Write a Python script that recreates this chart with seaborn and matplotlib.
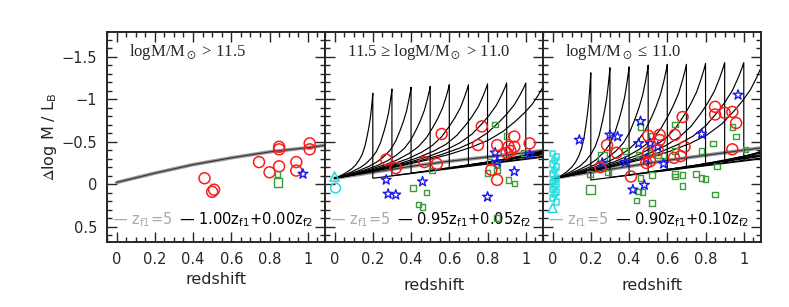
import numpy as np
import pandas as pd
import matplotlib
matplotlib.use("Agg")
import matplotlib.pyplot as plt
from matplotlib.ticker import MultipleLocator
import seaborn as sns

sns.set_style("ticks")
plt.rcParams["font.family"] = ["DejaVu Sans"]
plt.rcParams["mathtext.fontset"] = "stix"

# ---------------- data ----------------
titles = [r"logM/M$_\odot$ > 11.5",
          r"11.5 ≥ logM/M$_\odot$ > 11.0",
          r"logM/M$_\odot$ ≤ 11.0"]
mix_labels = [r"1.00z$_\mathregular{f1}$+0.00z$_\mathregular{f2}$",
              r"0.95z$_\mathregular{f1}$+0.05z$_\mathregular{f2}$",
              r"0.90z$_\mathregular{f1}$+0.10z$_\mathregular{f2}$"]

# passive track (z_f1 only)
base_z = [0.0, 0.2, 0.4, 0.6, 0.8, 1.0, 1.1]
base_v1 = [-0.02, -0.13, -0.23, -0.31, -0.38, -0.43, -0.46]
base_v2 = [-0.07, -0.14, -0.21, -0.27, -0.32, -0.37, -0.40]
base_v3 = [-0.07, -0.14, -0.21, -0.28, -0.34, -0.40, -0.43]

# burst tracks (second formation redshift z_f2)
zf2 = [0.2, 0.3, 0.4, 0.5, 0.6, 0.7, 0.8, 0.9, 1.0, 1.1]
top2 = [-1.07, -1.12, -1.14, -1.15, -1.17, -1.17, -1.18, -1.19, -1.19, -1.19]
top3 = [-1.31, -1.37, -1.38, -1.40, -1.41, -1.41, -1.42, -1.43, -1.43, -1.43]
bot2 = [-0.07, -0.10, -0.13, -0.16, -0.19, -0.22, -0.25, -0.28, -0.31, -0.34]
bot3 = [-0.05, -0.08, -0.11, -0.14, -0.17, -0.20, -0.23, -0.26, -0.29, -0.32]
end2 = [-0.32, -0.33, -0.35, -0.36, -0.37, -0.38, -0.39, -0.40, -0.40, -0.34]
end3 = [-0.30, -0.31, -0.33, -0.34, -0.35, -0.37, -0.38, -0.39, -0.40, -0.32]
pivot2 = (0.0, -0.07)
pivot3 = (0.02, -0.07)
slope2 = -0.30
slope3 = -0.31
# rise of a burst track above the passive line (fraction of the way to z_f2)
prof_t = [0, 0.15, 0.3, 0.45, 0.55, 0.65, 0.73, 0.8, 0.86, 0.9, 0.94, 0.97, 0.99, 1.0]
prof_h = [0, 0.02, 0.05, 0.09, 0.13, 0.19, 0.26, 0.36, 0.49, 0.59, 0.71, 0.84, 0.94, 1.0]

# panel 1 points
p1_red_z = [0.46, 0.50, 0.51, 0.745, 0.80, 0.85, 0.85, 0.85, 0.94, 0.94, 1.01, 1.01]
p1_red_v = [-0.07, 0.09, 0.065, -0.26, -0.14, -0.44, -0.41, -0.21, -0.26, -0.16, -0.48, -0.41]
p1_grn_z = [0.84]
p1_grn_v = [-0.12]
p1_bgrn_z = [0.845]
p1_bgrn_v = [-0.02]
p1_blu_z = [0.975]
p1_blu_v = [-0.12]

# panel 2 points
p2_red_z = [0.27, 0.32, 0.56, 0.47, 0.535, 0.77, 0.75, 0.85, 0.85, 0.82, 0.94, 0.91, 0.94,
            0.92, 0.90, 1.02]
p2_red_v = [-0.29, -0.19, -0.59, -0.26, -0.24, -0.68, -0.46, -0.46, -0.05, -0.17, -0.56,
            -0.44, -0.44, -0.39, -0.37, -0.48]
p2_blu_z = [0.27, 0.28, 0.32, 0.46, 0.80, 0.84, 0.85, 0.94, 1.02]
p2_blu_v = [-0.05, 0.115, 0.125, -0.03, 0.15, -0.37, -0.26, -0.15, -0.35]
p2_grn_z = [0.41, 0.48, 0.44, 0.46, 0.51, 0.84, 0.90, 0.80, 0.85, 0.85, 0.91, 0.94, 0.85,
            0.99, 0.81]
p2_grn_v = [0.045, 0.10, 0.24, 0.27, -0.16, -0.70, -0.57, -0.13, -0.23, -0.16, -0.05,
            -0.01, 0.40, -0.37, -0.26]
p2_cyc_z = [0.005]
p2_cyc_v = [0.045]
p2_cyt_z = [0.0]
p2_cyt_v = [-0.09]

# panel 3 points
p3_red_z = [0.285, 0.335, 0.25, 0.41, 0.50, 0.56, 0.56, 0.50, 0.49, 0.51, 0.64, 0.69,
            0.635, 0.67, 0.68, 0.85, 0.85, 0.90, 0.94, 0.96, 0.94, 0.55]
p3_red_v = [-0.46, -0.37, -0.20, -0.09, -0.57, -0.58, -0.52, -0.37, -0.25, -0.27, -0.58,
            -0.44, -0.31, -0.33, -0.79, -0.91, -0.82, -0.84, -0.85, -0.72, -0.41, -0.40]
p3_blu_z = [0.14, 0.30, 0.34, 0.26, 0.38, 0.45, 0.46, 0.51, 0.55, 0.49, 0.58, 0.48, 0.42,
            0.78, 0.97]
p3_blu_v = [-0.52, -0.58, -0.56, -0.25, -0.26, -0.48, -0.74, -0.48, -0.44, -0.30, -0.24,
            0.01, 0.065, -0.59, -1.05]
p3_grn_z = [0.196, 0.29, 0.38, 0.46, 0.45, 0.46, 0.45, 0.47, 0.44, 0.52, 0.52, 0.52, 0.55,
            0.52, 0.64, 0.64, 0.64, 0.64, 0.68, 0.68, 0.75, 0.78, 0.78, 0.80, 0.84, 0.85,
            0.86, 0.94, 0.96, 1.01, 0.58]
p3_grn_v = [-0.12, -0.14, -0.39, -0.67, -0.35, -0.07, 0.085, 0.09, 0.19, 0.22, -0.57,
            -0.37, -0.34, -0.11, -0.70, -0.39, -0.12, -0.09, -0.11, 0.02, -0.12, -0.39,
            -0.07, -0.06, -0.48, 0.12, -0.21, -0.67, -0.56, -0.41, -0.34]
p3_bgrn_z = [0.20, 0.26]
p3_bgrn_v = [0.065, -0.32]
p3_cys_z = [0.0, 0.02, 0.01, 0.0, 0.02, 0.01, 0.0, 0.02, 0.01, 0.0, 0.02, 0.01, 0.0, 0.02,
            0.01, 0.0, 0.02]
p3_cys_v = [-0.36, -0.32, -0.28, -0.24, -0.20, -0.16, -0.12, -0.08, -0.05, -0.02, 0.0,
            0.03, 0.06, 0.09, 0.12, 0.16, 0.21]
p3_cyt_z = [0.0]
p3_cyt_v = [0.28]

RED = "#ff1a1a"
BLUE = "#1a1aee"
GREEN = "#3c9c3c"
CYAN = "#22dde0"


def burst_tracks(pivot, slope, tops, bots, ends):
    rows = []
    for i, (zf, top, bot, end) in enumerate(zip(zf2, tops, bots, ends)):
        z0, v0 = pivot
        vbase_f = v0 + slope * (zf - z0)
        for t, h in zip(prof_t, prof_h):
            z = z0 + t * (zf - z0)
            vb = v0 + slope * (z - z0)
            rows.append((i, z, vb + (top - vbase_f) * h))
        rows.append((i, zf, bot))
        rows.append((i, 1.1, end))
    return pd.DataFrame(rows, columns=["track", "z", "v"])


def open_pts(ax, z, v, marker, color, s, lw=1.0):
    sns.scatterplot(x=z, y=v, ax=ax, marker=marker, s=s, color=color,
                    facecolor="none", edgecolor=color, linewidth=lw, zorder=4)


fig = plt.figure(figsize=(7.89, 3.07), dpi=100)
W = 218 / 789
axes = [fig.add_axes([(107 + k * 218) / 789, 65 / 307, W, 210 / 307]) for k in range(3)]

bases = [base_v1, base_v2, base_v3]
for k, ax in enumerate(axes):
    # passive line(s)
    sns.lineplot(x=base_z, y=bases[k], ax=ax, color="#9a9a9a", lw=2.6, sort=False, zorder=1)
    sns.lineplot(x=base_z, y=bases[k], ax=ax, color="#333333", lw=0.8, sort=False, zorder=2)

tr2 = burst_tracks(pivot2, slope2, top2, bot2, end2)
tr3 = burst_tracks(pivot3, slope3, top3, bot3, end3)
sns.lineplot(data=tr2, x="z", y="v", units="track", estimator=None, sort=False,
             color="black", lw=0.85, ax=axes[1], zorder=2)
sns.lineplot(data=tr3, x="z", y="v", units="track", estimator=None, sort=False,
             color="black", lw=0.85, ax=axes[2], zorder=2)

# panel 1 markers
open_pts(axes[0], p1_red_z, p1_red_v, "o", RED, 62, 1.1)
open_pts(axes[0], p1_grn_z, p1_grn_v, "s", GREEN, 14)
open_pts(axes[0], p1_bgrn_z, p1_bgrn_v, "s", GREEN, 36)
open_pts(axes[0], p1_blu_z, p1_blu_v, "*", BLUE, 55)

# panel 2 markers
open_pts(axes[1], p2_grn_z, p2_grn_v, "s", GREEN, 16)
open_pts(axes[1], p2_blu_z, p2_blu_v, "*", BLUE, 55)
open_pts(axes[1], p2_red_z, p2_red_v, "o", RED, 62, 1.1)
open_pts(axes[1], p2_cyc_z, p2_cyc_v, "o", CYAN, 50, 1.1)
open_pts(axes[1], p2_cyt_z, p2_cyt_v, "^", CYAN, 45, 1.1)

# panel 3 markers
open_pts(axes[2], p3_grn_z, p3_grn_v, "s", GREEN, 16)
open_pts(axes[2], p3_bgrn_z, p3_bgrn_v, "s", GREEN, 45)
open_pts(axes[2], p3_blu_z, p3_blu_v, "*", BLUE, 55)
open_pts(axes[2], p3_red_z, p3_red_v, "o", RED, 62, 1.1)
open_pts(axes[2], p3_cys_z, p3_cys_v, "s", CYAN, 16, 1.1)
open_pts(axes[2], p3_cyt_z, p3_cyt_v, "^", CYAN, 40, 1.1)

for k, ax in enumerate(axes):
    ax.set_xlim(-0.05, 1.09)
    ax.set_ylim(0.68, -1.79)
    ax.xaxis.set_major_locator(MultipleLocator(0.2))
    ax.xaxis.set_minor_locator(MultipleLocator(0.05))
    ax.yaxis.set_major_locator(MultipleLocator(0.5))
    ax.yaxis.set_minor_locator(MultipleLocator(0.1))
    ax.set_xticks([0, 0.2, 0.4, 0.6, 0.8, 1.0], ["0", "0.2", "0.4", "0.6", "0.8", "1"])
    ax.tick_params(which="both", direction="in", top=True, right=True, width=1.0,
                   labelsize=10.5, pad=7)
    ax.tick_params(which="major", length=7)
    ax.tick_params(which="minor", length=3.5)
    for sp in ax.spines.values():
        sp.set_linewidth(1.4)
    ax.set_xlabel("redshift", fontsize=11.5, labelpad=4 if k == 0 else 8)
    if k == 0:
        ax.set_yticks([-1.5, -1, -0.5, 0, 0.5], ["\u22121.5", "\u22121", "\u22120.5", "0", "0.5"])
        ax.set_ylabel(r"$\Delta$log M / L$_\mathregular{B}$", fontsize=11.5, labelpad=2)
    else:
        ax.set_yticks([-1.5, -1, -0.5, 0, 0.5], [])
        ax.set_ylabel("")
    ax.text(0.10, 0.905, titles[k], transform=ax.transAxes,
            fontsize=12, family="Liberation Serif", ha="left", va="center")
    ax.text(0.025, 0.105, r"— z$_\mathregular{f1}$=5", transform=ax.transAxes,
            fontsize=10.5, color="#aaaaaa", ha="left", va="center")
    ax.text(0.33, 0.105, "— " + mix_labels[k], transform=ax.transAxes,
            fontsize=10.5, color="black", ha="left", va="center")

fig.savefig("out.png", dpi=100)
